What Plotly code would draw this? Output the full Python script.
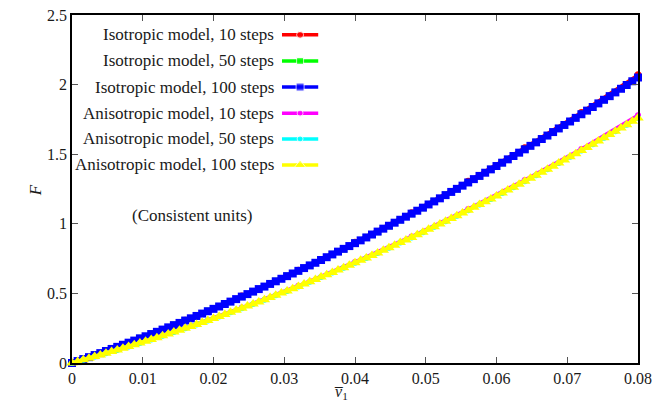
import numpy as np
import plotly.graph_objects as go

# Force F against mean displacement v1 for two material models and three step counts
V_MAX = 0.08

iso_10 = [0, 0.148, 0.308, 0.481, 0.667, 0.867, 1.080, 1.306, 1.546, 1.800, 2.070]

iso_50 = [0, 0.028, 0.057, 0.086, 0.116, 0.146, 0.177, 0.208, 0.240, 0.272,
          0.305, 0.338, 0.372, 0.406, 0.441, 0.477, 0.513, 0.549, 0.587, 0.624,
          0.662, 0.701, 0.740, 0.780, 0.820, 0.861, 0.902, 0.944, 0.986, 1.029,
          1.073, 1.116, 1.161, 1.206, 1.251, 1.297, 1.344, 1.391, 1.439, 1.487,
          1.535, 1.585, 1.634, 1.685, 1.735, 1.787, 1.839, 1.891, 1.944, 1.997,
          2.051]

iso_100 = [0, 0.014, 0.028, 0.042, 0.057, 0.071, 0.086, 0.101, 0.116, 0.131,
           0.146, 0.161, 0.177, 0.192, 0.208, 0.224, 0.240, 0.256, 0.272, 0.288,
           0.305, 0.321, 0.338, 0.355, 0.372, 0.389, 0.406, 0.424, 0.441, 0.459,
           0.477, 0.495, 0.513, 0.531, 0.549, 0.568, 0.587, 0.605, 0.624, 0.643,
           0.662, 0.682, 0.701, 0.720, 0.740, 0.760, 0.780, 0.800, 0.820, 0.840,
           0.861, 0.881, 0.902, 0.923, 0.944, 0.965, 0.986, 1.008, 1.029, 1.051,
           1.073, 1.094, 1.116, 1.139, 1.161, 1.183, 1.206, 1.229, 1.251, 1.274,
           1.297, 1.321, 1.344, 1.367, 1.391, 1.415, 1.439, 1.463, 1.487, 1.511,
           1.535, 1.560, 1.585, 1.609, 1.634, 1.659, 1.685, 1.710, 1.735, 1.761,
           1.787, 1.813, 1.839, 1.865, 1.891, 1.917, 1.944, 1.970, 1.997, 2.024,
           2.051]

aniso_10 = [0, 0.120, 0.253, 0.398, 0.555, 0.726, 0.909, 1.106, 1.315, 1.537, 1.780]

aniso_50 = [0, 0.023, 0.046, 0.070, 0.094, 0.118, 0.144, 0.169, 0.196, 0.222,
            0.250, 0.277, 0.306, 0.334, 0.364, 0.394, 0.424, 0.455, 0.486, 0.518,
            0.550, 0.583, 0.617, 0.651, 0.685, 0.720, 0.755, 0.791, 0.828, 0.865,
            0.902, 0.940, 0.979, 1.018, 1.058, 1.098, 1.138, 1.179, 1.221, 1.263,
            1.306, 1.349, 1.392, 1.437, 1.481, 1.526, 1.572, 1.618, 1.665, 1.712,
            1.760]

aniso_100 = [0, 0.011, 0.023, 0.034, 0.046, 0.058, 0.070, 0.082, 0.094, 0.106,
             0.118, 0.131, 0.144, 0.156, 0.169, 0.182, 0.196, 0.209, 0.222, 0.236,
             0.250, 0.263, 0.277, 0.291, 0.306, 0.320, 0.334, 0.349, 0.364, 0.379,
             0.394, 0.409, 0.424, 0.439, 0.455, 0.470, 0.486, 0.502, 0.518, 0.534,
             0.550, 0.567, 0.583, 0.600, 0.617, 0.634, 0.651, 0.668, 0.685, 0.702,
             0.720, 0.738, 0.755, 0.773, 0.791, 0.810, 0.828, 0.846, 0.865, 0.884,
             0.902, 0.921, 0.940, 0.960, 0.979, 0.998, 1.018, 1.038, 1.058, 1.078,
             1.098, 1.118, 1.138, 1.159, 1.179, 1.200, 1.221, 1.242, 1.263, 1.284,
             1.306, 1.327, 1.349, 1.370, 1.392, 1.414, 1.437, 1.459, 1.481, 1.504,
             1.526, 1.549, 1.572, 1.595, 1.618, 1.642, 1.665, 1.689, 1.712, 1.736,
             1.760]

series = [
    ("Isotropic model, 10 steps", iso_10, "#ff0000", "circle", 7),
    ("Isotropic model, 50 steps", iso_50, "#00ff00", "square", 7),
    ("Isotropic model, 100 steps", iso_100, "#0000ff", "square", 8),
    ("Anisotropic model, 10 steps", aniso_10, "#ff00ff", "circle", 6),
    ("Anisotropic model, 50 steps", aniso_50, "#00ffff", "circle", 6),
    ("Anisotropic model, 100 steps", aniso_100, "#ffff00", "triangle-up", 10),
]

FONT = "Liberation Serif"
TEXT = "#1a1a1a"
fig = go.Figure()

for name, vals, color, symbol, size in series:
    x = np.linspace(0, V_MAX, len(vals))
    fig.add_trace(go.Scatter(
        x=x, y=vals, mode="lines+markers", name=name, showlegend=False,
        line=dict(color=color, width=3.5),
        marker=dict(color=color, symbol=symbol, size=size),
        cliponaxis=False,
    ))

# Key drawn on an overlay axis: text on the left, sample on the right
row_y = [0.943, 0.868, 0.793, 0.718, 0.644, 0.569]
annotations = []
for (name, vals, color, symbol, size), ry in zip(series, row_y):
    fig.add_trace(go.Scatter(
        x=[0.371, 0.403, 0.435], y=[ry, ry, ry], xaxis="x2", yaxis="y2",
        mode="lines+markers", showlegend=False, hoverinfo="skip",
        line=dict(color=color, width=3.5),
        marker=dict(color=color, symbol=symbol, size=[0, size, 0]),
    ))
    annotations.append(dict(
        x=0.360, y=ry, xref="x2", yref="y2", text=name, showarrow=False,
        xanchor="right", yanchor="middle", font=dict(family=FONT, size=17, color=TEXT),
    ))

annotations.append(dict(
    x=0.017, y=1.06, xref="x", yref="y", text="(Consistent units)", showarrow=False,
    xanchor="center", yanchor="middle", font=dict(family=FONT, size=17, color=TEXT),
))

# Axis titles placed relative to the plotting area
annotations.append(dict(
    x=0.475, y=-0.086, xref="paper", yref="paper", text="<i>v\u0305</i><sub>1</sub>",
    showarrow=False, xanchor="center", yanchor="middle",
    font=dict(family=FONT, size=16, color=TEXT),
))
annotations.append(dict(
    x=-0.065, y=0.497, xref="paper", yref="paper", text="<i>F</i>",
    showarrow=False, xanchor="center", yanchor="middle", textangle=-90,
    font=dict(family=FONT, size=17, color=TEXT),
))

axis_common = dict(
    showline=True, linecolor="black", linewidth=1.5, mirror="ticks",
    ticks="inside", ticklen=6, tickwidth=1, tickcolor="#555",
    showgrid=False, zeroline=False, automargin=False,
    tickfont=dict(family=FONT, size=16, color=TEXT),
)

fig.update_layout(
    width=672, height=403,
    margin=dict(l=72, r=34, t=15, b=40),
    paper_bgcolor="white", plot_bgcolor="white",
    xaxis=dict(range=[0, V_MAX], dtick=0.01, tick0=0, **axis_common),
    yaxis=dict(range=[0, 2.5], dtick=0.5, tick0=0, **axis_common),
    xaxis2=dict(overlaying="x", range=[0, 1], visible=False),
    yaxis2=dict(overlaying="y", range=[0, 1], visible=False),
    annotations=annotations,
)

fig.write_html("out.html")
